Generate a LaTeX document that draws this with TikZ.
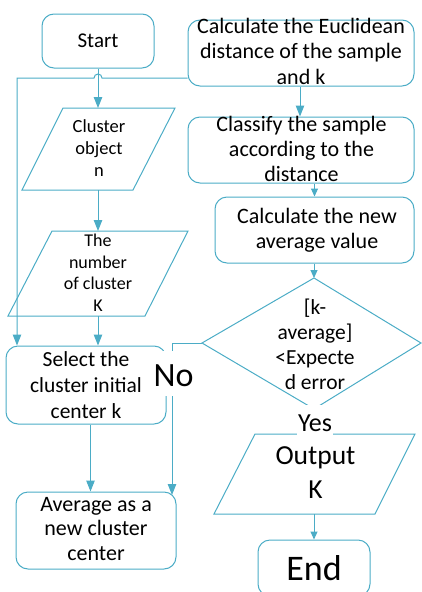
\documentclass[tikz,border=0pt]{standalone}
\usepackage{fontspec}
\setmainfont{Carlito}
\usetikzlibrary{arrows.meta}
\definecolor{lnc}{RGB}{75,172,198}
\newcommand{\myfs}[2]{\fontsize{#1pt}{#2pt}\selectfont}
\begin{document}
\begin{tikzpicture}[x=1pt,y=-1pt,
  box/.style={draw=lnc, line width=1pt, rounded corners=12pt, inner sep=0pt},
  shp/.style={draw=lnc, line width=1pt},
  txt/.style={align=center, inner sep=0pt, text=black},
  conn/.style={draw=lnc, line width=1pt},
  arr/.style={conn, -{Triangle[length=11pt,width=8.5pt]}},
  sarr/.style={conn, -{Triangle[length=8pt,width=7pt]}},
  lab/.style={fill=white, inner xsep=1.5pt, inner ysep=0pt, text=black}]
\useasboundingbox (0,0) rectangle (421,592);

% boxes
\node[box, minimum width=112pt, minimum height=54pt] (start) at (98,41) {};
\node[box, minimum width=226pt, minimum height=66pt] (euc) at (301,53) {};
\node[box, minimum width=226pt, minimum height=66pt] (class) at (301,150) {};
\node[box, minimum width=199pt, minimum height=66pt] (new) at (314.5,230) {};
\node[box, minimum width=160pt, minimum height=78pt] (sel) at (86,385) {};
\node[box, minimum width=160pt, minimum height=77pt] (avg) at (96,530.5) {};
\node[box, minimum width=112pt, minimum height=56pt] (end) at (314,568) {};

% parallelograms and decision
\coordinate (co1) at (63,108); \coordinate (co2) at (175,108);
\coordinate (co3) at (133,190); \coordinate (co4) at (22,190);
\draw[shp] (co1) -- (co2) -- (co3) -- (co4) -- cycle;
\coordinate (nu1) at (52,231); \coordinate (nu2) at (188,231);
\coordinate (nu3) at (145,316); \coordinate (nu4) at (8,316);
\draw[shp] (nu1) -- (nu2) -- (nu3) -- (nu4) -- cycle;
\coordinate (ou1) at (255,434); \coordinate (ou2) at (415,434);
\coordinate (ou3) at (375,514); \coordinate (ou4) at (214,514);
\draw[shp] (ou1) -- (ou2) -- (ou3) -- (ou4) -- cycle;
\coordinate (dtop) at (314,278); \coordinate (dright) at (421,343);
\coordinate (dbot) at (314,409); \coordinate (dleft) at (202,343);
\draw[shp] (dtop) -- (dright) -- (dbot) -- (dleft) -- cycle;

\coordinate (coN) at (98,108); \coordinate (coS) at (98,190);
\coordinate (nuN) at (98,231); \coordinate (nuS) at (98,316);
\coordinate (ouN) at (314,434); \coordinate (ouS) at (314,514);

% texts
\node[txt, font=\myfs{21}{25}] (startT) at (start) {Start};
\node[txt, font=\myfs{22}{25.5}] (eucT) at (301,51) {Calculate the Euclidean\\distance of the sample\\and k};
\node[txt, font=\myfs{22}{25}] (classT) at (301.5,148.5) {Classify the sample\\according to the\\distance};
\node[txt, font=\myfs{22}{25}] (newT) at (317,230) {Calculate the new\\average value};
\node[txt, font=\myfs{21.5}{25}] (diaT) at (315,344) {[k-\\average]\\<Expecte\\d error};
\node[txt, font=\myfs{27.5}{34}] (ouT) at (315.5,473) {Output\\K};
\node[txt, font=\myfs{21.5}{26}] (selT) at (86,385.5) {Select the\\cluster initial\\center k};
\node[txt, font=\myfs{22}{24.5}] (avgT) at (96,529) {Average as a\\new cluster\\center};
\node[txt, font=\myfs{18.5}{22}] (coT) at (99,148.5) {Cluster\\object\\n};
\node[txt, font=\myfs{18}{21.5}] (nuT) at (98,272.5) {The\\number\\of cluster\\K};
\node[txt, font=\myfs{36}{40}] (endT) at (end) {End};

% connectors
\coordinate (hopy) at (0,78);
\coordinate (lft) at (17,78);
\draw[arr] (euc.west |- hopy) -- (102,78) arc[start angle=0, end angle=180, radius=4pt] -- (lft) -- (lft |- sel.north);
\draw[arr] (start.south) -- (coN);
\draw[arr] (coS) -- (nuN);
\draw[arr] (nuS) -- (nuS |- sel.north);
\draw[arr] ([xshift=4.5pt]sel.south) -- ([xshift=4.5pt]sel.south |- avg.north);
\draw[arr] ([xshift=-1pt]euc.south) -- ([xshift=-1pt]euc.south |- class.north);
\draw[sarr] (class.south -| new.north) -- (new.north);
\draw[sarr] (new.south -| dtop) -- (dtop);
\coordinate (nocorner) at (172,343);
\draw[arr] (dleft) -- (nocorner) -- (172,495);
\draw[arr] (dbot) -- (ouN);
\draw[sarr] (ouS) -- (end.north -| ouS);

% labels
\node[lab, font=\myfs{34}{40}, text height=35pt, text depth=10pt, anchor=base] (no) at (173.5,386) {No};
\node[lab, font=\myfs{26}{30}, text height=26pt, text depth=6pt, anchor=base] (yes) at (315,431) {Yes};
\end{tikzpicture}
\end{document}
